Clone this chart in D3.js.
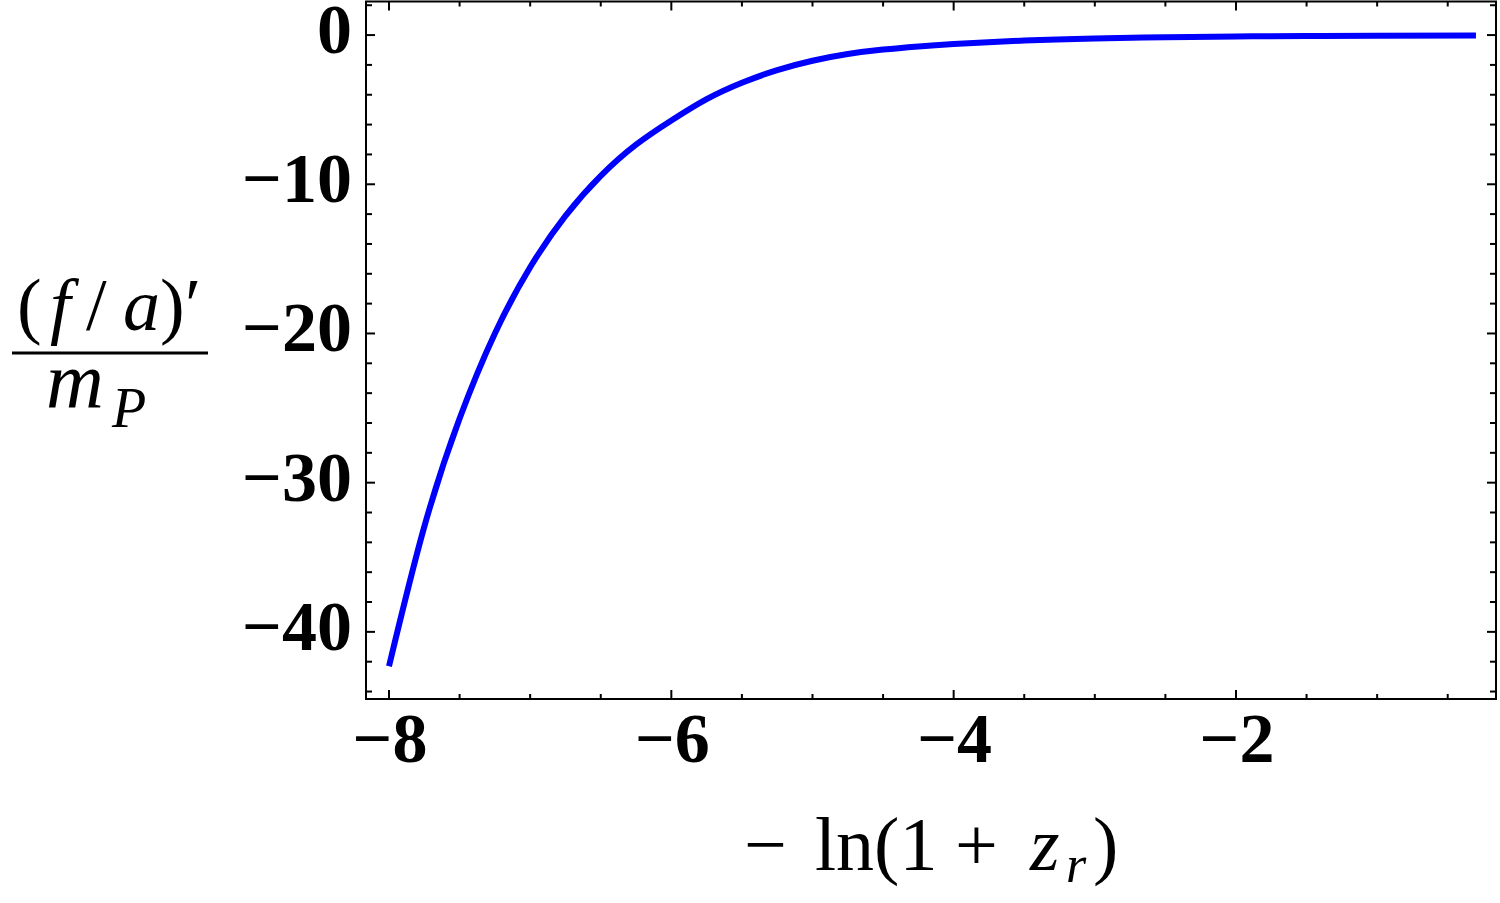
<!DOCTYPE html>
<html>
<head>
<meta charset="utf-8">
<script src="https://cdn.jsdelivr.net/npm/d3@7"></script>
<style>
  body { margin: 0; background: #fff; }
  svg { display: block; }
  .tick-label { font-family: "Liberation Serif", "Times New Roman", serif; font-weight: bold; font-size: 70px; }
  .math { font-family: "Liberation Serif", "Times New Roman", serif; }
</style>
</head>
<body>
<svg id="chart"></svg>
<script>
// valeurs
const lnz = [-8, -7.75, -7.5, -7.25, -7, -6.75, -6.5, -6.25, -6, -5.75, -5.5, -5.25, -5, -4.75, -4.5, -4.25, -4, -3.5, -3, -2.5, -2, -1.5, -1, -0.3];
const fa  = [-42.3, -32.95, -25.7, -20.0, -15.56, -12.12, -9.44, -7.35, -5.73, -4.3, -3.2, -2.35, -1.72, -1.27, -0.97, -0.76, -0.60, -0.37, -0.23, -0.145, -0.093, -0.06, -0.039, -0.021];

const xMajor = [-8, -6, -4, -2];
const yMajor = [0, -10, -20, -30, -40];

var margin = {top: 1.5, right: 4, bottom: 204, left: 366},
width = 1500 - margin.left - margin.right,
height = 903 - margin.top - margin.bottom;

const svg = d3.select("#chart")
  .attr("width", 1500)
  .attr("height", 903);

const g = svg.append("g")
  .attr("transform", `translate(${margin.left},${margin.top})`);

const x = d3.scaleLinear().domain([-8.163, -0.158]).range([0, width]);
const y = d3.scaleLinear().domain([2.25, -44.5]).range([0, height]);

const xMinor = d3.range(-8, -0.1, 0.5).filter(v => !xMajor.includes(v));
const yMinor = d3.range(2, -45, -2).filter(v => !yMajor.includes(v));

// cadre
g.append("rect")
  .attr("width", width).attr("height", height)
  .attr("fill", "none").attr("stroke", "#000").attr("stroke-width", 2);

// graduations vers l'interieur, sur les quatre cotes
function ticksX(vals, len) {
  vals.forEach(v => {
    g.append("line").attr("x1", x(v)).attr("x2", x(v)).attr("y1", height).attr("y2", height - len)
      .attr("stroke", "#000").attr("stroke-width", 2);
    g.append("line").attr("x1", x(v)).attr("x2", x(v)).attr("y1", 0).attr("y2", len)
      .attr("stroke", "#000").attr("stroke-width", 2);
  });
}
function ticksY(vals, len) {
  vals.forEach(v => {
    g.append("line").attr("y1", y(v)).attr("y2", y(v)).attr("x1", 0).attr("x2", len)
      .attr("stroke", "#000").attr("stroke-width", 2);
    g.append("line").attr("y1", y(v)).attr("y2", y(v)).attr("x1", width).attr("x2", width - len)
      .attr("stroke", "#000").attr("stroke-width", 2);
  });
}
ticksX(xMajor, 9);
ticksX(xMinor, 5);
ticksY(yMajor, 9);
ticksY(yMinor, 6);

// etiquettes
g.selectAll(".xl").data(xMajor).enter().append("text")
  .attr("class", "tick-label")
  .attr("x", d => x(d) + 1)
  .attr("y", height + 63)
  .attr("text-anchor", "middle")
  .text(d => "\u2212" + Math.abs(d));

g.selectAll(".yl").data(yMajor).enter().append("text")
  .attr("class", "tick-label")
  .attr("x", -14)
  .attr("y", d => y(d) + 18)
  .attr("text-anchor", "end")
  .text(d => d === 0 ? "0" : "\u2212" + Math.abs(d));

// courbe
const line = d3.line()
  .x((d, i) => x(lnz[i]))
  .y(d => y(d))
  .curve(d3.curveNatural);

g.append("path")
  .datum(fa)
  .attr("d", line)
  .attr("fill", "none")
  .attr("stroke", "#0000ff")
  .attr("stroke-width", 6);

// titre de l'axe x : − ln(1 + z_r)
const xt = svg.append("text").attr("class", "math")
  .attr("y", 870)
  .attr("font-size", 76);
xt.append("tspan").attr("x", 744).text("\u2212");
xt.append("tspan").attr("x", 815).text("ln(1");
xt.append("tspan").attr("x", 955).text("+");
xt.append("tspan").attr("x", 1030).attr("font-style", "italic").text("z");
xt.append("tspan").attr("x", 1066).attr("font-style", "italic").attr("font-size", 52).attr("dy", 12).text("r");
xt.append("tspan").attr("x", 1093).attr("dy", -12).text(")");

// titre de l'axe y : (f/a)' / m_P
const num = svg.append("text").attr("class", "math")
  .attr("y", 330)
  .attr("font-size", 74);
num.append("tspan").attr("x", 17).text("(");
num.append("tspan").attr("x", 50).attr("font-style", "italic").text("f");
num.append("tspan").attr("x", 86).text("/");
num.append("tspan").attr("x", 123).attr("font-style", "italic").text("a");
num.append("tspan").attr("x", 160).text(")");
num.append("tspan").attr("x", 185).text("\u2032");

svg.append("line")
  .attr("x1", 12).attr("x2", 208).attr("y1", 353).attr("y2", 353)
  .attr("stroke", "#000").attr("stroke-width", 3);

const den = svg.append("text").attr("class", "math")
  .attr("y", 407)
  .attr("font-size", 80);
den.append("tspan").attr("x", 46).attr("font-style", "italic").text("m");
den.append("tspan").attr("x", 112).attr("font-style", "italic").attr("font-size", 56).attr("dy", 20).text("P");
</script>
</body>
</html>
